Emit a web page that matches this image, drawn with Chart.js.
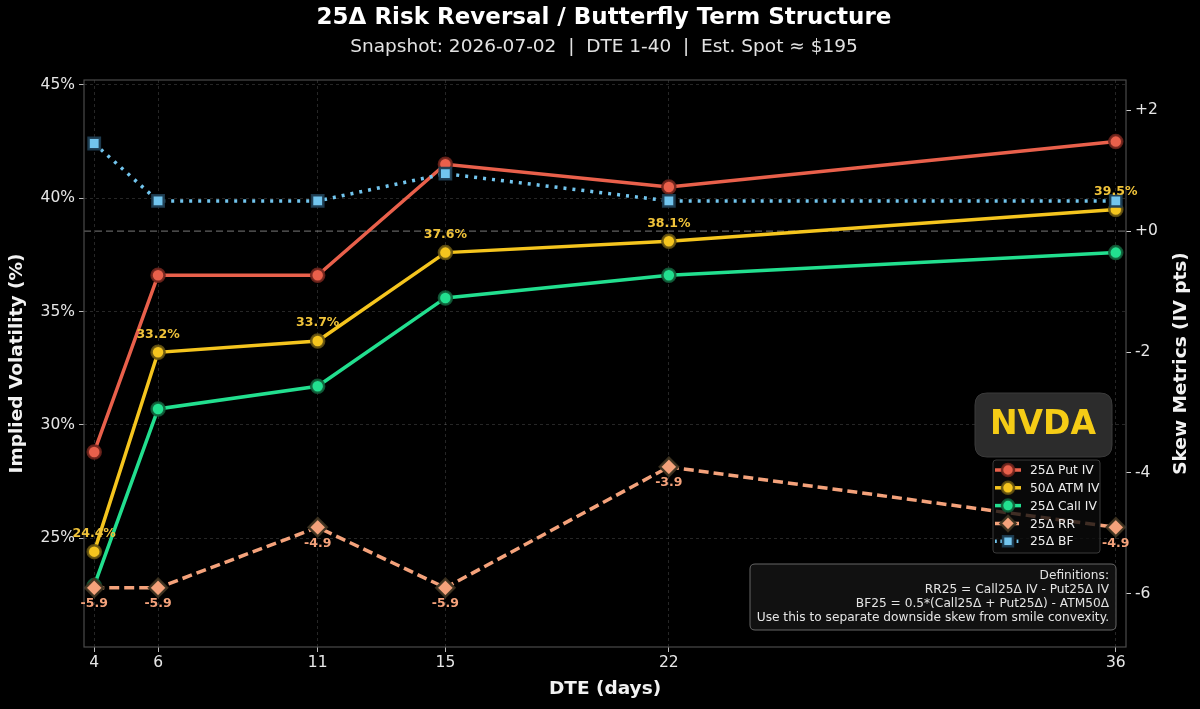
<!DOCTYPE html>
<html>
<head>
<meta charset="utf-8">
<script src="https://cdn.jsdelivr.net/npm/chart.js@4.4.1/dist/chart.umd.min.js"></script>
<style>
html,body{margin:0;padding:0;background:#000;}
canvas{display:block;}
</style>
</head>
<body>
<canvas id="c" width="1200" height="709"></canvas>
<script>
const dte=[4,6,11,15,22,36];
const putIV=[28.8,36.6,36.6,41.5,40.5,42.5];
const atmIV=[24.4,33.2,33.7,37.6,38.1,39.5];
const callIV=[22.9,30.7,31.7,35.6,36.6,37.6];
const rr25=[-5.9,-5.9,-4.9,-5.9,-3.9,-4.9];
const bf25=[1.45,0.5,0.5,0.95,0.5,0.5];
const ivTicks=[25,30,35,40,45];
const skewTicks=[2,0,-2,-4,-6];
const defLines=["Definitions:","RR25 = Call25Δ IV - Put25Δ IV","BF25 = 0.5*(Call25Δ + Put25Δ) - ATM50Δ","Use this to separate downside skew from smile convexity."];

const FONT="'DejaVu Sans', 'Noto Sans', sans-serif";
const C={put:"#e9604b",atm:"#f5c51e",call:"#22df8f",rr:"#f4a27b",bf:"#72c5ee",lbl:"#f0c33a"};

function pts(vals){ return dte.map((d,i)=>({x:d,y:vals[i]})); }

function ds(label,vals,color,edge,axis,style,r,dash,order){
  return {label, data:pts(vals), yAxisID:axis, borderColor:color, backgroundColor:color,
    borderWidth:3.5, borderDash:dash, pointStyle:style, pointRadius:r, pointHoverRadius:r,
    pointBackgroundColor:color, pointBorderColor:edge, pointBorderWidth:2.5, tension:0, order};
}

const datasets=[
  ds("25Δ Put IV",putIV,C.put,"rgba(110,36,28,0.9)","y","circle",6.5,[],5),
  ds("50Δ ATM IV",atmIV,C.atm,"rgba(100,82,18,0.9)","y","circle",6.5,[],4),
  ds("25Δ Call IV",callIV,C.call,"rgba(18,92,56,0.9)","y","circle",6.5,[],3),
  ds("25Δ RR",rr25,C.rr,"rgba(60,50,32,0.95)","y2","rectRot",9,[10,5],2),
  ds("25Δ BF",bf25,C.bf,"rgba(30,60,80,0.95)","y2","rect",8,[3,6],1)
];

function marker(ctx,style,x,y,r,fill,edge){
  ctx.save();
  ctx.fillStyle=fill; ctx.strokeStyle=edge; ctx.lineWidth=2.5; ctx.setLineDash([]);
  ctx.beginPath();
  if(style==="circle"){ ctx.arc(x,y,r,0,Math.PI*2); }
  else if(style==="rectRot"){ ctx.moveTo(x,y-r); ctx.lineTo(x+r,y); ctx.lineTo(x,y+r); ctx.lineTo(x-r,y); ctx.closePath(); }
  else { const s=r*Math.SQRT1_2; ctx.rect(x-s,y-s,2*s,2*s); }
  ctx.fill(); ctx.stroke();
  ctx.restore();
}

function roundRect(ctx,x,y,w,h,r){
  ctx.beginPath();
  ctx.moveTo(x+r,y); ctx.lineTo(x+w-r,y); ctx.quadraticCurveTo(x+w,y,x+w,y+r);
  ctx.lineTo(x+w,y+h-r); ctx.quadraticCurveTo(x+w,y+h,x+w-r,y+h);
  ctx.lineTo(x+r,y+h); ctx.quadraticCurveTo(x,y+h,x,y+h-r);
  ctx.lineTo(x,y+r); ctx.quadraticCurveTo(x,y,x+r,y); ctx.closePath();
}

const extras={
  id:"extras",
  beforeDraw(chart){
    const ctx=chart.ctx;
    ctx.save(); ctx.fillStyle="#000"; ctx.fillRect(0,0,chart.width,chart.height); ctx.restore();
  },
  beforeDatasetsDraw(chart){
    const ctx=chart.ctx, a=chart.chartArea;
    const y0=chart.scales.y2.getPixelForValue(0);
    ctx.save();
    ctx.strokeStyle="rgba(160,160,160,0.6)"; ctx.lineWidth=1.2; ctx.setLineDash([7,4]);
    ctx.beginPath(); ctx.moveTo(a.left,y0); ctx.lineTo(a.right,y0); ctx.stroke();
    ctx.restore();
  },
  afterDraw(chart){
    const ctx=chart.ctx, a=chart.chartArea;
    ctx.save();
    // frame
    ctx.strokeStyle="#4a4a4a"; ctx.lineWidth=1.2;
    ctx.strokeRect(a.left,a.top,a.right-a.left,a.bottom-a.top);

    // titles
    ctx.textAlign="center"; ctx.textBaseline="middle";
    ctx.fillStyle="#ffffff"; ctx.font="bold 23px "+FONT;
    ctx.fillText("25Δ Risk Reversal / Butterfly Term Structure",604,18);
    ctx.fillStyle="#e2e2e2"; ctx.font="18.5px "+FONT;
    ctx.fillText("Snapshot: 2026-07-02  |  DTE 1-40  |  Est. Spot ≈ $195",604,47);

    ctx.fillStyle="#f2f2f2"; ctx.font="bold 18.5px "+FONT;
    ctx.fillText("DTE (days)",(a.left+a.right)/2,689);
    ctx.save(); ctx.translate(17,(a.top+a.bottom)/2); ctx.rotate(-Math.PI/2);
    ctx.fillText("Implied Volatility (%)",0,0); ctx.restore();
    ctx.save(); ctx.translate(1181,(a.top+a.bottom)/2); ctx.rotate(-Math.PI/2);
    ctx.fillText("Skew Metrics (IV pts)",0,0); ctx.restore();

    // point labels
    ctx.font="bold 12.5px "+FONT;
    const atmMeta=chart.getDatasetMeta(1);
    ctx.fillStyle=C.lbl;
    atmMeta.data.forEach((p,i)=>ctx.fillText(atmIV[i].toFixed(1)+"%",p.x,p.y-18));
    const rrMeta=chart.getDatasetMeta(3);
    ctx.fillStyle=C.rr;
    rrMeta.data.forEach((p,i)=>ctx.fillText(rr25[i].toFixed(1),p.x,p.y+16));

    // ticker badge
    roundRect(ctx,975,393,137,64,12);
    ctx.fillStyle="#2c2c2c"; ctx.fill();
    ctx.strokeStyle="#3a3a3a"; ctx.lineWidth=1; ctx.stroke();
    ctx.fillStyle="#f5cc16"; ctx.font="bold 33px "+FONT;
    ctx.fillText("NVDA",1043,425);

    // legend
    roundRect(ctx,993,460,107,93,3);
    ctx.fillStyle="rgba(12,12,12,0.78)"; ctx.fill();
    ctx.strokeStyle="#3a3a3a"; ctx.lineWidth=1; ctx.stroke();
    ctx.textAlign="left"; ctx.font="12.3px "+FONT;
    chart.data.datasets.forEach((d,i)=>{
      const y=470+i*17.8;
      ctx.save();
      ctx.strokeStyle=d.borderColor; ctx.lineWidth=3.5; ctx.setLineDash(d.borderDash.length?d.borderDash.map(v=>v*0.6):[]);
      ctx.beginPath(); ctx.moveTo(995,y); ctx.lineTo(1021,y); ctx.stroke();
      ctx.restore();
      const r=d.pointStyle==="rectRot"?7.5:(d.pointStyle==="rect"?7:6);
      marker(ctx,d.pointStyle,1008,y,r,d.pointBackgroundColor,d.pointBorderColor);
      ctx.fillStyle="#eeeeee";
      ctx.fillText(d.label,1030,y+1);
    });

    // definitions box
    roundRect(ctx,750,564,366,66,5);
    ctx.fillStyle="rgba(18,18,18,0.92)"; ctx.fill();
    ctx.strokeStyle="#666"; ctx.lineWidth=1; ctx.stroke();
    ctx.textAlign="right"; ctx.fillStyle="#e4e4e4"; ctx.font="12.2px "+FONT;
    defLines.forEach((t,i)=>ctx.fillText(t,1109,576+i*14));
    ctx.restore();
  }
};

const tickFont={family:FONT,size:15.5};
new Chart(document.getElementById("c"),{
  type:"line",
  data:{datasets},
  options:{
    responsive:false, animation:false, events:[],
    layout:{padding:{top:80,left:0,right:0,bottom:0}},
    plugins:{legend:{display:false},title:{display:false},tooltip:{enabled:false}},
    scales:{
      x:{type:"linear",min:3.68,max:36.32,
        afterBuildTicks:s=>{s.ticks=dte.map(v=>({value:v}));},
        afterFit:s=>{s.height=62;},
        ticks:{color:"#e6e6e6",font:tickFont,padding:2,callback:v=>String(v)},
        grid:{color:"rgba(255,255,255,0.17)",lineWidth:0.9,tickColor:"#cfcfcf",tickLength:5,tickBorderDash:[]},
        border:{display:false,dash:[3,3]}
      },
      y:{type:"linear",position:"left",min:20.19,max:45.22,
        afterBuildTicks:s=>{s.ticks=ivTicks.map(v=>({value:v}));},
        afterFit:s=>{s.width=84;},
        ticks:{color:"#e6e6e6",font:tickFont,padding:4,callback:v=>v+"%"},
        grid:{color:"rgba(255,255,255,0.17)",lineWidth:0.9,tickColor:"#cfcfcf",tickLength:5,tickBorderDash:[]},
        border:{display:false,dash:[3,3]}
      },
      y2:{type:"linear",position:"right",min:-6.88,max:2.5,
        afterBuildTicks:s=>{s.ticks=skewTicks.map(v=>({value:v}));},
        afterFit:s=>{s.width=74;},
        ticks:{color:"#e6e6e6",font:tickFont,padding:4,callback:v=>(v>=0?"+":"")+v},
        grid:{drawOnChartArea:false,tickColor:"#cfcfcf",tickLength:5},
        border:{display:false}
      }
    }
  },
  plugins:[extras]
});
</script>
</body>
</html>
